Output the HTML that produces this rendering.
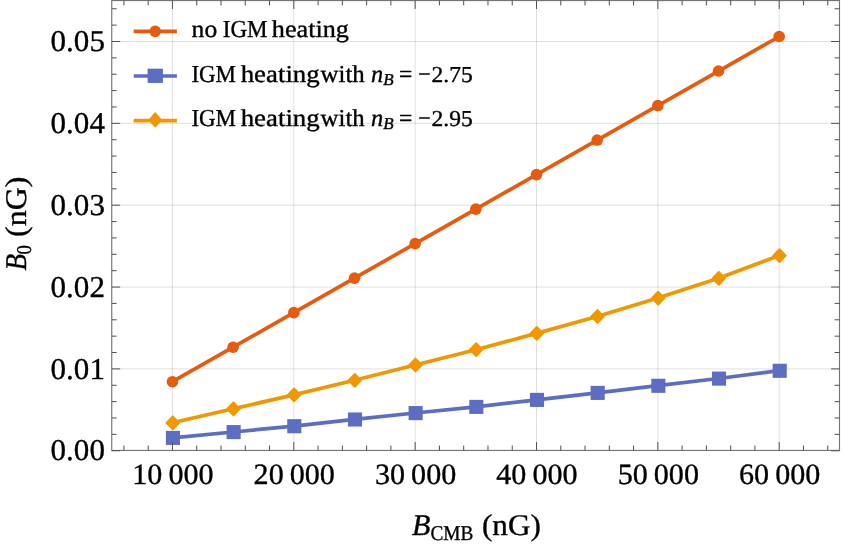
<!DOCTYPE html>
<html><head><meta charset="utf-8"><title>plot</title>
<style>html,body{margin:0;padding:0;background:#fff;}svg{display:block;will-change:transform;}text{font-family:"Liberation Serif",serif;fill:#000;stroke:#000;stroke-width:0.35px;text-rendering:geometricPrecision;}</style></head><body>
<svg width="843" height="545" viewBox="0 0 843 545">
<rect width="843" height="545" fill="#fff"/>
<g stroke="#000" stroke-opacity="0.125" stroke-width="1" fill="none">
<line x1="172.45" y1="0.55" x2="172.45" y2="450.45"/>
<line x1="293.81" y1="0.55" x2="293.81" y2="450.45"/>
<line x1="415.15" y1="0.55" x2="415.15" y2="450.45"/>
<line x1="536.50" y1="0.55" x2="536.50" y2="450.45"/>
<line x1="657.86" y1="0.55" x2="657.86" y2="450.45"/>
<line x1="779.20" y1="0.55" x2="779.20" y2="450.45"/>
<line x1="111.75" y1="368.90" x2="839.50" y2="368.90"/>
<line x1="111.75" y1="287.05" x2="839.50" y2="287.05"/>
<line x1="111.75" y1="205.20" x2="839.50" y2="205.20"/>
<line x1="111.75" y1="123.35" x2="839.50" y2="123.35"/>
<line x1="111.75" y1="41.50" x2="839.50" y2="41.50"/>
</g>
<polyline points="172.45,381.70 233.13,347.18 293.81,312.66 354.48,278.14 415.15,243.62 475.83,209.10 536.50,174.58 597.18,140.06 657.86,105.54 718.53,71.02 779.20,36.50" fill="none" stroke="#E65C0E" stroke-width="3.7" stroke-linejoin="round" stroke-linecap="butt"/>
<circle cx="172.45" cy="381.70" r="5.8" fill="#E65C0E"/>
<circle cx="233.13" cy="347.18" r="5.8" fill="#E65C0E"/>
<circle cx="293.81" cy="312.66" r="5.8" fill="#E65C0E"/>
<circle cx="354.48" cy="278.14" r="5.8" fill="#E65C0E"/>
<circle cx="415.15" cy="243.62" r="5.8" fill="#E65C0E"/>
<circle cx="475.83" cy="209.10" r="5.8" fill="#E65C0E"/>
<circle cx="536.50" cy="174.58" r="5.8" fill="#E65C0E"/>
<circle cx="597.18" cy="140.06" r="5.8" fill="#E65C0E"/>
<circle cx="657.86" cy="105.54" r="5.8" fill="#E65C0E"/>
<circle cx="718.53" cy="71.02" r="5.8" fill="#E65C0E"/>
<circle cx="779.20" cy="36.50" r="5.8" fill="#E65C0E"/>
<polyline points="172.45,437.80 233.13,432.00 293.81,426.10 354.48,419.40 415.15,413.00 475.83,406.80 536.50,399.80 597.18,392.80 657.86,385.70 718.53,378.50 779.20,370.70" fill="none" stroke="#5D6DC1" stroke-width="3.7" stroke-linejoin="round" stroke-linecap="butt"/>
<rect x="165.90" y="430.85" width="14.1" height="14.1" fill="#5D6DC1"/>
<rect x="226.58" y="425.05" width="14.1" height="14.1" fill="#5D6DC1"/>
<rect x="287.25" y="419.15" width="14.1" height="14.1" fill="#5D6DC1"/>
<rect x="347.93" y="412.45" width="14.1" height="14.1" fill="#5D6DC1"/>
<rect x="408.60" y="406.05" width="14.1" height="14.1" fill="#5D6DC1"/>
<rect x="469.28" y="399.85" width="14.1" height="14.1" fill="#5D6DC1"/>
<rect x="529.96" y="392.85" width="14.1" height="14.1" fill="#5D6DC1"/>
<rect x="590.63" y="385.85" width="14.1" height="14.1" fill="#5D6DC1"/>
<rect x="651.31" y="378.75" width="14.1" height="14.1" fill="#5D6DC1"/>
<rect x="711.98" y="371.55" width="14.1" height="14.1" fill="#5D6DC1"/>
<rect x="772.65" y="363.75" width="14.1" height="14.1" fill="#5D6DC1"/>
<polyline points="172.45,422.80 233.13,408.80 293.81,394.90 354.48,380.30 415.15,365.00 475.83,349.70 536.50,333.40 597.18,316.50 657.86,298.10 718.53,278.30 779.20,255.60" fill="none" stroke="#F19700" stroke-width="3.7" stroke-linejoin="round" stroke-linecap="butt"/>
<path d="M172.75 416.35L179.00 422.80L172.75 429.25L166.50 422.80Z" fill="#F19700" stroke="#F19700" stroke-width="1.9" stroke-linejoin="round"/>
<path d="M233.43 402.35L239.68 408.80L233.43 415.25L227.18 408.80Z" fill="#F19700" stroke="#F19700" stroke-width="1.9" stroke-linejoin="round"/>
<path d="M294.11 388.45L300.36 394.90L294.11 401.35L287.86 394.90Z" fill="#F19700" stroke="#F19700" stroke-width="1.9" stroke-linejoin="round"/>
<path d="M354.78 373.85L361.03 380.30L354.78 386.75L348.53 380.30Z" fill="#F19700" stroke="#F19700" stroke-width="1.9" stroke-linejoin="round"/>
<path d="M415.45 358.55L421.70 365.00L415.45 371.45L409.20 365.00Z" fill="#F19700" stroke="#F19700" stroke-width="1.9" stroke-linejoin="round"/>
<path d="M476.13 343.25L482.38 349.70L476.13 356.15L469.88 349.70Z" fill="#F19700" stroke="#F19700" stroke-width="1.9" stroke-linejoin="round"/>
<path d="M536.80 326.95L543.05 333.40L536.80 339.85L530.55 333.40Z" fill="#F19700" stroke="#F19700" stroke-width="1.9" stroke-linejoin="round"/>
<path d="M597.48 310.05L603.73 316.50L597.48 322.95L591.23 316.50Z" fill="#F19700" stroke="#F19700" stroke-width="1.9" stroke-linejoin="round"/>
<path d="M658.15 291.65L664.40 298.10L658.15 304.55L651.90 298.10Z" fill="#F19700" stroke="#F19700" stroke-width="1.9" stroke-linejoin="round"/>
<path d="M718.83 271.85L725.08 278.30L718.83 284.75L712.58 278.30Z" fill="#F19700" stroke="#F19700" stroke-width="1.9" stroke-linejoin="round"/>
<path d="M779.50 249.15L785.75 255.60L779.50 262.05L773.25 255.60Z" fill="#F19700" stroke="#F19700" stroke-width="1.9" stroke-linejoin="round"/>
<rect x="111.75" y="0.55" width="727.75" height="449.90" fill="none" stroke="#757575" stroke-width="1.15"/>
<g stroke="#505050" stroke-width="1" fill="none">
<line x1="123.92" y1="450.45" x2="123.92" y2="445.55"/>
<line x1="123.92" y1="0.55" x2="123.92" y2="5.45"/>
<line x1="148.19" y1="450.45" x2="148.19" y2="445.55"/>
<line x1="148.19" y1="0.55" x2="148.19" y2="5.45"/>
<line x1="172.45" y1="450.45" x2="172.45" y2="442.05"/>
<line x1="172.45" y1="0.55" x2="172.45" y2="8.95"/>
<line x1="196.72" y1="450.45" x2="196.72" y2="445.55"/>
<line x1="196.72" y1="0.55" x2="196.72" y2="5.45"/>
<line x1="221.00" y1="450.45" x2="221.00" y2="445.55"/>
<line x1="221.00" y1="0.55" x2="221.00" y2="5.45"/>
<line x1="245.27" y1="450.45" x2="245.27" y2="445.55"/>
<line x1="245.27" y1="0.55" x2="245.27" y2="5.45"/>
<line x1="269.53" y1="450.45" x2="269.53" y2="445.55"/>
<line x1="269.53" y1="0.55" x2="269.53" y2="5.45"/>
<line x1="293.81" y1="450.45" x2="293.81" y2="442.05"/>
<line x1="293.81" y1="0.55" x2="293.81" y2="8.95"/>
<line x1="318.07" y1="450.45" x2="318.07" y2="445.55"/>
<line x1="318.07" y1="0.55" x2="318.07" y2="5.45"/>
<line x1="342.35" y1="450.45" x2="342.35" y2="445.55"/>
<line x1="342.35" y1="0.55" x2="342.35" y2="5.45"/>
<line x1="366.62" y1="450.45" x2="366.62" y2="445.55"/>
<line x1="366.62" y1="0.55" x2="366.62" y2="5.45"/>
<line x1="390.88" y1="450.45" x2="390.88" y2="445.55"/>
<line x1="390.88" y1="0.55" x2="390.88" y2="5.45"/>
<line x1="415.15" y1="450.45" x2="415.15" y2="442.05"/>
<line x1="415.15" y1="0.55" x2="415.15" y2="8.95"/>
<line x1="439.42" y1="450.45" x2="439.42" y2="445.55"/>
<line x1="439.42" y1="0.55" x2="439.42" y2="5.45"/>
<line x1="463.70" y1="450.45" x2="463.70" y2="445.55"/>
<line x1="463.70" y1="0.55" x2="463.70" y2="5.45"/>
<line x1="487.97" y1="450.45" x2="487.97" y2="445.55"/>
<line x1="487.97" y1="0.55" x2="487.97" y2="5.45"/>
<line x1="512.24" y1="450.45" x2="512.24" y2="445.55"/>
<line x1="512.24" y1="0.55" x2="512.24" y2="5.45"/>
<line x1="536.50" y1="450.45" x2="536.50" y2="442.05"/>
<line x1="536.50" y1="0.55" x2="536.50" y2="8.95"/>
<line x1="560.77" y1="450.45" x2="560.77" y2="445.55"/>
<line x1="560.77" y1="0.55" x2="560.77" y2="5.45"/>
<line x1="585.04" y1="450.45" x2="585.04" y2="445.55"/>
<line x1="585.04" y1="0.55" x2="585.04" y2="5.45"/>
<line x1="609.32" y1="450.45" x2="609.32" y2="445.55"/>
<line x1="609.32" y1="0.55" x2="609.32" y2="5.45"/>
<line x1="633.58" y1="450.45" x2="633.58" y2="445.55"/>
<line x1="633.58" y1="0.55" x2="633.58" y2="5.45"/>
<line x1="657.86" y1="450.45" x2="657.86" y2="442.05"/>
<line x1="657.86" y1="0.55" x2="657.86" y2="8.95"/>
<line x1="682.12" y1="450.45" x2="682.12" y2="445.55"/>
<line x1="682.12" y1="0.55" x2="682.12" y2="5.45"/>
<line x1="706.39" y1="450.45" x2="706.39" y2="445.55"/>
<line x1="706.39" y1="0.55" x2="706.39" y2="5.45"/>
<line x1="730.66" y1="450.45" x2="730.66" y2="445.55"/>
<line x1="730.66" y1="0.55" x2="730.66" y2="5.45"/>
<line x1="754.93" y1="450.45" x2="754.93" y2="445.55"/>
<line x1="754.93" y1="0.55" x2="754.93" y2="5.45"/>
<line x1="779.20" y1="450.45" x2="779.20" y2="442.05"/>
<line x1="779.20" y1="0.55" x2="779.20" y2="8.95"/>
<line x1="803.48" y1="450.45" x2="803.48" y2="445.55"/>
<line x1="803.48" y1="0.55" x2="803.48" y2="5.45"/>
<line x1="827.75" y1="450.45" x2="827.75" y2="445.55"/>
<line x1="827.75" y1="0.55" x2="827.75" y2="5.45"/>
<line x1="111.75" y1="450.75" x2="120.15" y2="450.75"/>
<line x1="839.50" y1="450.75" x2="831.10" y2="450.75"/>
<line x1="111.75" y1="434.38" x2="116.65" y2="434.38"/>
<line x1="839.50" y1="434.38" x2="834.60" y2="434.38"/>
<line x1="111.75" y1="418.01" x2="116.65" y2="418.01"/>
<line x1="839.50" y1="418.01" x2="834.60" y2="418.01"/>
<line x1="111.75" y1="401.64" x2="116.65" y2="401.64"/>
<line x1="839.50" y1="401.64" x2="834.60" y2="401.64"/>
<line x1="111.75" y1="385.27" x2="116.65" y2="385.27"/>
<line x1="839.50" y1="385.27" x2="834.60" y2="385.27"/>
<line x1="111.75" y1="368.90" x2="120.15" y2="368.90"/>
<line x1="839.50" y1="368.90" x2="831.10" y2="368.90"/>
<line x1="111.75" y1="352.53" x2="116.65" y2="352.53"/>
<line x1="839.50" y1="352.53" x2="834.60" y2="352.53"/>
<line x1="111.75" y1="336.16" x2="116.65" y2="336.16"/>
<line x1="839.50" y1="336.16" x2="834.60" y2="336.16"/>
<line x1="111.75" y1="319.79" x2="116.65" y2="319.79"/>
<line x1="839.50" y1="319.79" x2="834.60" y2="319.79"/>
<line x1="111.75" y1="303.42" x2="116.65" y2="303.42"/>
<line x1="839.50" y1="303.42" x2="834.60" y2="303.42"/>
<line x1="111.75" y1="287.05" x2="120.15" y2="287.05"/>
<line x1="839.50" y1="287.05" x2="831.10" y2="287.05"/>
<line x1="111.75" y1="270.68" x2="116.65" y2="270.68"/>
<line x1="839.50" y1="270.68" x2="834.60" y2="270.68"/>
<line x1="111.75" y1="254.31" x2="116.65" y2="254.31"/>
<line x1="839.50" y1="254.31" x2="834.60" y2="254.31"/>
<line x1="111.75" y1="237.94" x2="116.65" y2="237.94"/>
<line x1="839.50" y1="237.94" x2="834.60" y2="237.94"/>
<line x1="111.75" y1="221.57" x2="116.65" y2="221.57"/>
<line x1="839.50" y1="221.57" x2="834.60" y2="221.57"/>
<line x1="111.75" y1="205.20" x2="120.15" y2="205.20"/>
<line x1="839.50" y1="205.20" x2="831.10" y2="205.20"/>
<line x1="111.75" y1="188.83" x2="116.65" y2="188.83"/>
<line x1="839.50" y1="188.83" x2="834.60" y2="188.83"/>
<line x1="111.75" y1="172.46" x2="116.65" y2="172.46"/>
<line x1="839.50" y1="172.46" x2="834.60" y2="172.46"/>
<line x1="111.75" y1="156.09" x2="116.65" y2="156.09"/>
<line x1="839.50" y1="156.09" x2="834.60" y2="156.09"/>
<line x1="111.75" y1="139.72" x2="116.65" y2="139.72"/>
<line x1="839.50" y1="139.72" x2="834.60" y2="139.72"/>
<line x1="111.75" y1="123.35" x2="120.15" y2="123.35"/>
<line x1="839.50" y1="123.35" x2="831.10" y2="123.35"/>
<line x1="111.75" y1="106.98" x2="116.65" y2="106.98"/>
<line x1="839.50" y1="106.98" x2="834.60" y2="106.98"/>
<line x1="111.75" y1="90.61" x2="116.65" y2="90.61"/>
<line x1="839.50" y1="90.61" x2="834.60" y2="90.61"/>
<line x1="111.75" y1="74.24" x2="116.65" y2="74.24"/>
<line x1="839.50" y1="74.24" x2="834.60" y2="74.24"/>
<line x1="111.75" y1="57.87" x2="116.65" y2="57.87"/>
<line x1="839.50" y1="57.87" x2="834.60" y2="57.87"/>
<line x1="111.75" y1="41.50" x2="120.15" y2="41.50"/>
<line x1="839.50" y1="41.50" x2="831.10" y2="41.50"/>
<line x1="111.75" y1="25.13" x2="116.65" y2="25.13"/>
<line x1="839.50" y1="25.13" x2="834.60" y2="25.13"/>
<line x1="111.75" y1="8.76" x2="116.65" y2="8.76"/>
<line x1="839.50" y1="8.76" x2="834.60" y2="8.76"/>
</g>
<text transform="translate(50.6 460.45)" font-size="30.3" textLength="54.3" lengthAdjust="spacingAndGlyphs">0.00</text>
<text transform="translate(50.6 378.60)" font-size="30.3" textLength="54.3" lengthAdjust="spacingAndGlyphs">0.01</text>
<text transform="translate(50.6 296.75)" font-size="30.3" textLength="54.3" lengthAdjust="spacingAndGlyphs">0.02</text>
<text transform="translate(50.6 214.90)" font-size="30.3" textLength="54.3" lengthAdjust="spacingAndGlyphs">0.03</text>
<text transform="translate(50.6 133.05)" font-size="30.3" textLength="54.3" lengthAdjust="spacingAndGlyphs">0.04</text>
<text transform="translate(50.6 51.20)" font-size="30.3" textLength="54.3" lengthAdjust="spacingAndGlyphs">0.05</text>
<text transform="translate(132.25 483.8)" font-size="29.4" textLength="81.3" lengthAdjust="spacingAndGlyphs">10 000</text>
<text transform="translate(253.61 483.8)" font-size="29.4" textLength="81.3" lengthAdjust="spacingAndGlyphs">20 000</text>
<text transform="translate(374.95 483.8)" font-size="29.4" textLength="81.3" lengthAdjust="spacingAndGlyphs">30 000</text>
<text transform="translate(496.31 483.8)" font-size="29.4" textLength="81.3" lengthAdjust="spacingAndGlyphs">40 000</text>
<text transform="translate(617.65 483.8)" font-size="29.4" textLength="81.3" lengthAdjust="spacingAndGlyphs">50 000</text>
<text transform="translate(739.00 483.8)" font-size="29.4" textLength="81.3" lengthAdjust="spacingAndGlyphs">60 000</text>
<text x="412.0" y="534.9" font-size="30" font-style="italic">B</text>
<text x="430.5" y="539.9" font-size="21" textLength="42.8" lengthAdjust="spacingAndGlyphs">CMB</text>
<text x="482.0" y="534.9" font-size="30" textLength="58.8" lengthAdjust="spacingAndGlyphs">(nG)</text>
<g transform="translate(25.6 270) rotate(-90)">
<text x="-0.4" y="0" font-size="30" font-style="italic" textLength="16.6" lengthAdjust="spacingAndGlyphs">B</text>
<text x="15.6" y="5.6" font-size="21" textLength="9.4" lengthAdjust="spacingAndGlyphs">0</text>
<text x="33.1" y="0" font-size="30" textLength="60.2" lengthAdjust="spacingAndGlyphs">(nG)</text>
</g>
<line x1="133.7" y1="31.4" x2="176.9" y2="31.4" stroke="#E65C0E" stroke-width="3.7"/>
<circle cx="155.20" cy="31.35" r="5.8" fill="#E65C0E"/>
<line x1="133.7" y1="76.0" x2="176.9" y2="76.0" stroke="#5D6DC1" stroke-width="3.7"/>
<rect x="147.6" y="68.65" width="15.3" height="14.3" fill="#5D6DC1"/>
<line x1="133.7" y1="120.7" x2="176.9" y2="120.7" stroke="#F19700" stroke-width="3.7"/>
<path d="M155.20 113.35L160.90 119.80L155.20 126.25L149.50 119.80Z" fill="#F19700" stroke="#F19700" stroke-width="1.9" stroke-linejoin="round"/>
<text x="191.6" y="37.2" font-size="24.3" textLength="25.6" lengthAdjust="spacingAndGlyphs" >no</text>
<text x="222.8" y="37.2" font-size="24.3" textLength="44.8" lengthAdjust="spacingAndGlyphs" >IGM</text>
<text x="271.8" y="37.2" font-size="24.3" textLength="77.1" lengthAdjust="spacingAndGlyphs" >heating</text>
<text x="191.4" y="82.05" font-size="24.3" textLength="44.6" lengthAdjust="spacingAndGlyphs" >IGM</text>
<text x="240.7" y="82.05" font-size="24.3" textLength="79.0" lengthAdjust="spacingAndGlyphs" >heating</text>
<text x="320.6" y="82.05" font-size="24.3" textLength="44.1" lengthAdjust="spacingAndGlyphs" >with</text>
<text x="371.0" y="82.05" font-size="24.3" textLength="12.2" lengthAdjust="spacingAndGlyphs" font-style="italic">n</text>
<text x="383.2" y="85.05" font-size="16.5" font-style="italic" textLength="10.4" lengthAdjust="spacingAndGlyphs">B</text>
<text x="399.0" y="82.05" font-size="24.3" textLength="13.3" lengthAdjust="spacingAndGlyphs" >=</text>
<text x="418.2" y="82.05" font-size="24.3" textLength="12.4" lengthAdjust="spacingAndGlyphs" >−</text>
<text x="431.6" y="82.05" font-size="22.8" textLength="41.2" lengthAdjust="spacingAndGlyphs" >2.75</text>
<text x="191.4" y="126.2" font-size="24.3" textLength="44.6" lengthAdjust="spacingAndGlyphs" >IGM</text>
<text x="240.7" y="126.2" font-size="24.3" textLength="79.0" lengthAdjust="spacingAndGlyphs" >heating</text>
<text x="320.6" y="126.2" font-size="24.3" textLength="44.1" lengthAdjust="spacingAndGlyphs" >with</text>
<text x="371.0" y="126.2" font-size="24.3" textLength="12.2" lengthAdjust="spacingAndGlyphs" font-style="italic">n</text>
<text x="383.2" y="129.2" font-size="16.5" font-style="italic" textLength="10.4" lengthAdjust="spacingAndGlyphs">B</text>
<text x="399.0" y="126.2" font-size="24.3" textLength="13.3" lengthAdjust="spacingAndGlyphs" >=</text>
<text x="418.2" y="126.2" font-size="24.3" textLength="12.4" lengthAdjust="spacingAndGlyphs" >−</text>
<text x="431.6" y="126.2" font-size="22.8" textLength="41.2" lengthAdjust="spacingAndGlyphs" >2.95</text>
</svg></body></html>
